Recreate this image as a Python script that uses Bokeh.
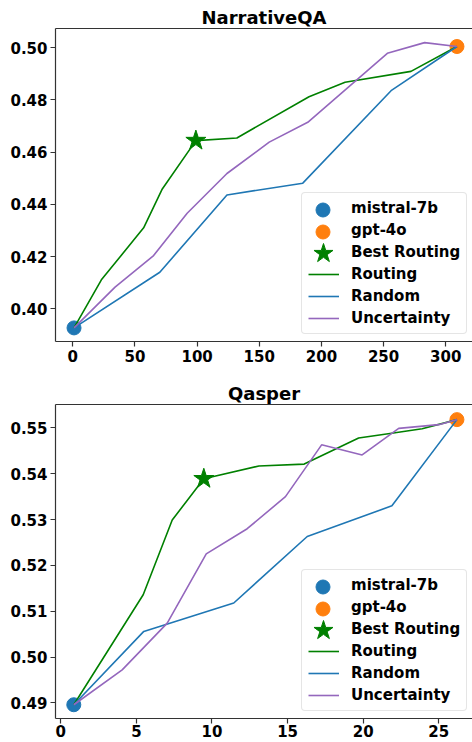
from bokeh.plotting import figure
from bokeh.layouts import column
from bokeh.models import (Legend, LegendItem, LinearAxis, FixedTicker,
                          PrintfTickFormatter, Range1d)
from bokeh.embed import file_html
from bokeh.resources import INLINE

# ---------------- data ----------------
# NarrativeQA
nqa_mistral_x = [1]
nqa_mistral_y = [0.3927]
nqa_gpt4o_x = [309]
nqa_gpt4o_y = [0.5004]
nqa_best_x = [99]
nqa_best_y = [0.4644]
nqa_routing_x = [1, 23, 57, 72, 99, 132, 190, 219, 272, 309]
nqa_routing_y = [0.3927, 0.4111, 0.4310, 0.4459, 0.4644, 0.4654, 0.4812, 0.4867, 0.4909, 0.5004]
nqa_random_x = [1, 70, 124, 185, 256, 309]
nqa_random_y = [0.3927, 0.4140, 0.4436, 0.4481, 0.4835, 0.5004]
nqa_unc_x = [1, 34, 65, 92, 124, 158, 189, 253, 283, 309]
nqa_unc_y = [0.3927, 0.4083, 0.4204, 0.4366, 0.4518, 0.4638, 0.4714, 0.4978, 0.5019, 0.5004]
nqa_xticks = [0, 50, 100, 150, 200, 250, 300]
nqa_yticks = [0.40, 0.42, 0.44, 0.46, 0.48, 0.50]

# Qasper
qas_mistral_x = [0.86]
qas_mistral_y = [0.4896]
qas_gpt4o_x = [26.2]
qas_gpt4o_y = [0.5518]
qas_best_x = [9.46]
qas_best_y = [0.5389]
qas_routing_x = [0.86, 5.45, 7.37, 9.46, 13.1, 16.1, 19.7, 22.0, 23.9, 26.2]
qas_routing_y = [0.4896, 0.5136, 0.5299, 0.5389, 0.5417, 0.5421, 0.5478, 0.5489, 0.5498, 0.5518]
qas_random_x = [0.86, 5.49, 11.44, 16.3, 21.9, 26.2]
qas_random_y = [0.4896, 0.5056, 0.5118, 0.5263, 0.5330, 0.5518]
qas_unc_x = [0.86, 4.06, 7.04, 9.62, 12.33, 14.86, 17.25, 19.93, 22.35, 25.0, 26.2]
qas_unc_y = [0.4896, 0.4972, 0.5074, 0.5225, 0.5280, 0.5350, 0.5463, 0.5441, 0.5499, 0.5507, 0.5518]
qas_xticks = [0, 5, 10, 15, 20, 25]
qas_yticks = [0.49, 0.50, 0.51, 0.52, 0.53, 0.54, 0.55]

BLUE = "#1f77b4"
ORANGE = "#ff7f0e"
GREEN = "#008000"
PURPLE = "#9467bd"
SPINE = "#333333"
FONT = "DejaVu Sans"

# legend geometry (screen px, from frame bottom-left)
LEG_X, LEG_Y, LEG_PAD, ROW_H, ROW_GAP, GLYPH_W = 246, 7, 6, 18, 4, 31
LEG_H = 2 * LEG_PAD + 6 * ROW_H + 5 * ROW_GAP


def marker_overlay(renderer, row, box):
    """Single-item legend drawing a larger marker over the main legend row."""
    cx = LEG_X + LEG_PAD + GLYPH_W / 2
    cy = LEG_Y + LEG_H - LEG_PAD - ROW_H / 2 - row * (ROW_H + ROW_GAP)
    lg = Legend(items=[LegendItem(label=" ", renderers=[renderer])],
                location=(cx - box / 2, cy - box / 2))
    lg.glyph_width = box
    lg.glyph_height = box
    lg.padding = 0
    lg.margin = 0
    lg.label_standoff = 0
    lg.label_text_font_size = "8px"
    lg.border_line_color = None
    lg.background_fill_alpha = 0
    lg.inactive_fill_alpha = 0
    return lg


def make_panel(title, xr, yr, xticks, yticks, mx, my, gx, gy, bx, by,
               rx, ry, rdx, rdy, ux, uy, height, top, bottom, standoff_x):
    p = figure(width=472, height=height, output_backend="svg",
               toolbar_location=None, x_range=Range1d(*xr), y_range=Range1d(*yr),
               min_border_left=55, min_border_right=0,
               min_border_top=top, min_border_bottom=bottom)
    p.title.text = title
    p.title.align = "center"
    p.title.text_font = FONT
    p.title.text_font_size = "18px"
    p.title.text_font_style = "bold"
    p.title.text_color = "black"
    p.title.standoff = 2
    p.title.offset = 0
    p.outline_line_color = None
    p.grid.visible = False
    p.background_fill_color = "white"

    for ax in (p.xaxis[0], p.yaxis[0]):
        ax.axis_line_color = SPINE
        ax.axis_line_width = 1.2
        ax.major_tick_line_color = SPINE
        ax.major_tick_line_width = 1.2
        ax.major_tick_out = 5
        ax.major_tick_in = 0
        ax.minor_tick_out = 0
        ax.minor_tick_in = 0
        ax.major_label_text_font = FONT
        ax.major_label_text_font_style = "bold"
        ax.major_label_text_font_size = "15px"
        ax.major_label_text_color = "black"
        ax.major_label_standoff = 3
    p.xaxis[0].major_label_standoff = standoff_x
    p.xaxis[0].ticker = FixedTicker(ticks=xticks)
    p.yaxis[0].ticker = FixedTicker(ticks=yticks)
    p.yaxis[0].formatter = PrintfTickFormatter(format="%.2f")

    top_ax = LinearAxis(ticker=FixedTicker(ticks=[]), axis_line_color=SPINE,
                        axis_line_width=1.2, major_tick_out=0, major_tick_in=0,
                        minor_tick_out=0, minor_tick_in=0,
                        major_label_text_font_size="0px")
    p.add_layout(top_ax, "above")

    r_m = p.scatter(mx, my, size=14, color=BLUE, marker="circle")
    r_g = p.scatter(gx, gy, size=14, color=ORANGE, marker="circle")
    r_b = p.scatter(bx, by, size=21, color=GREEN, marker="star")
    r_r = p.line(rx, ry, color=GREEN, line_width=1.6)
    r_rd = p.line(rdx, rdy, color=BLUE, line_width=1.6)
    r_u = p.line(ux, uy, color=PURPLE, line_width=1.6)

    legend = Legend(items=[
        LegendItem(label="mistral-7b", renderers=[r_m]),
        LegendItem(label="gpt-4o", renderers=[r_g]),
        LegendItem(label="Best Routing", renderers=[r_b]),
        LegendItem(label="Routing", renderers=[r_r]),
        LegendItem(label="Random", renderers=[r_rd]),
        LegendItem(label="Uncertainty", renderers=[r_u]),
    ], location=(LEG_X, LEG_Y))
    legend.label_text_font = FONT
    legend.label_text_font_style = "bold"
    legend.label_text_font_size = "15px"
    legend.label_text_color = "black"
    legend.glyph_width = GLYPH_W
    legend.glyph_height = ROW_H
    legend.label_standoff = 12
    legend.spacing = ROW_GAP
    legend.padding = LEG_PAD
    legend.margin = 0
    legend.border_line_color = "#cccccc"
    legend.border_line_width = 1
    legend.border_radius = 4
    legend.background_fill_alpha = 0.85
    p.add_layout(legend, "center")

    p.add_layout(marker_overlay(r_m, 0, 35), "center")
    p.add_layout(marker_overlay(r_g, 1, 35), "center")
    p.add_layout(marker_overlay(r_b, 2, 50), "center")
    return p


p1 = make_panel("NarrativeQA", (-13.9, 321.5), (0.3875, 0.5073),
                nqa_xticks, nqa_yticks,
                nqa_mistral_x, nqa_mistral_y, nqa_gpt4o_x, nqa_gpt4o_y,
                nqa_best_x, nqa_best_y, nqa_routing_x, nqa_routing_y,
                nqa_random_x, nqa_random_y, nqa_unc_x, nqa_unc_y,
                height=376, top=28, bottom=35, standoff_x=3)
p2 = make_panel("Qasper", (-0.35, 27.23), (0.4866, 0.5551),
                qas_xticks, qas_yticks,
                qas_mistral_x, qas_mistral_y, qas_gpt4o_x, qas_gpt4o_y,
                qas_best_x, qas_best_y, qas_routing_x, qas_routing_y,
                qas_random_x, qas_random_y, qas_unc_x, qas_unc_y,
                height=366, top=28, bottom=24, standoff_x=1)

layout = column(p1, p2, spacing=0)
open("out.html", "w").write(file_html(layout, INLINE))
